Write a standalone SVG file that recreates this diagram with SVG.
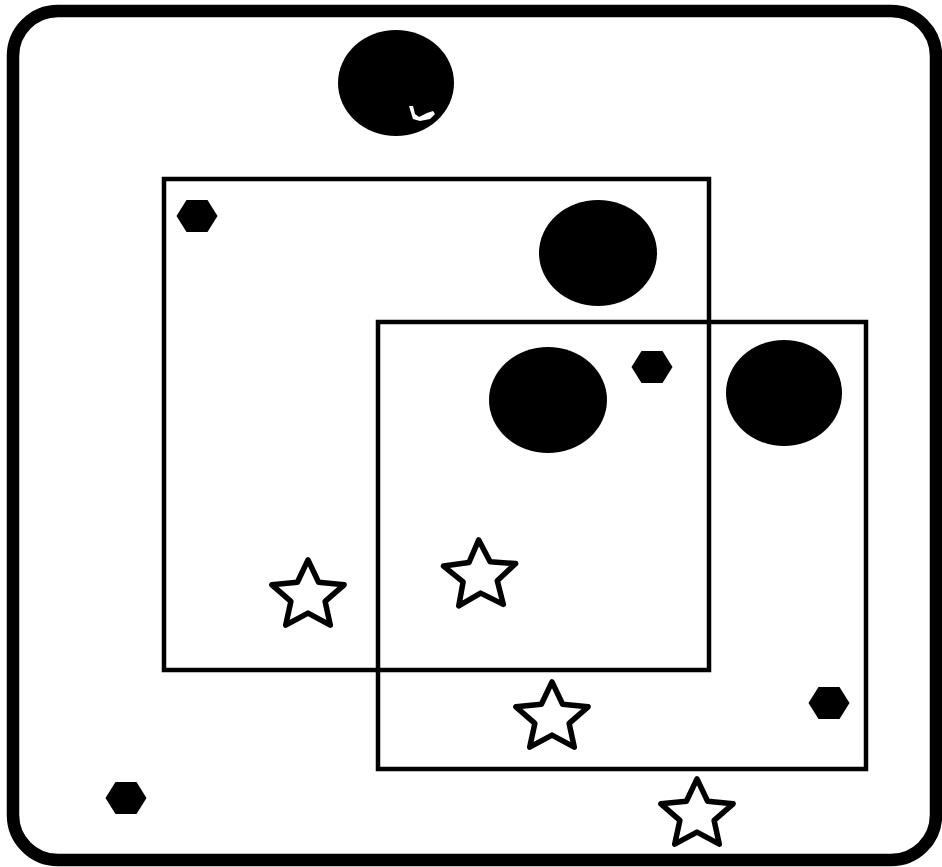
<svg xmlns="http://www.w3.org/2000/svg" xmlns:xlink="http://www.w3.org/1999/xlink" width="942" height="867" viewBox="0 0 942 867">
  <defs>
    <style>
      .frame { fill: #ffffff; stroke: #000000; stroke-width: 12.5; }
      .box { fill: none; stroke: #000000; stroke-width: 4.5; }
      .disc { fill: #000000; }
      .hex { fill: #000000; }
      .star { fill: #ffffff; stroke: #000000; stroke-width: 5.5; stroke-linejoin: round; }
    </style>
    <polygon id="hexShape" points="-20.5,0 -10.5,-16 10.5,-16 20.5,0 10.5,16 -10.5,16"/>
    <polygon id="starShape" points="0,-36.1 10.6,-13.8 36.1,-11.2 17.1,5.3 22.3,29.2 0,17.1 -22.3,29.2 -17.1,5.3 -36.1,-11.2 -10.6,-13.8"/>
  </defs>
  <rect x="0" y="0" width="942" height="867" fill="#ffffff"/>
  <g id="frame">
    <rect class="frame" x="13" y="11" width="923" height="849" rx="45" ry="45"/>
  </g>
  <g id="square-left">
    <rect class="box" x="164" y="179" width="545" height="491"/>
  </g>
  <g id="square-right">
    <rect class="box" x="378" y="322" width="488" height="447"/>
  </g>
  <g id="circle-top">
    <ellipse class="disc" cx="396" cy="83" rx="58" ry="53"/>
    <path d="M409,106 L413,106 L415,114 L419,117 L427,113 L433,111 L435,114 L430,119 L420,121 L413,119 Z" fill="#ffffff"/>
  </g>
  <g id="circle-2">
    <ellipse class="disc" cx="598" cy="253" rx="59" ry="53"/>
  </g>
  <g id="circle-3">
    <ellipse class="disc" cx="548" cy="400" rx="59" ry="53"/>
  </g>
  <g id="circle-4">
    <ellipse class="disc" cx="784" cy="393" rx="58" ry="53"/>
  </g>
  <g id="hex-1">
    <use xlink:href="#hexShape" href="#hexShape" class="hex" transform="translate(197,216)"/>
  </g>
  <g id="hex-2">
    <use xlink:href="#hexShape" href="#hexShape" class="hex" transform="translate(652,367)"/>
  </g>
  <g id="hex-3">
    <use xlink:href="#hexShape" href="#hexShape" class="hex" transform="translate(829,703)"/>
  </g>
  <g id="hex-4">
    <use xlink:href="#hexShape" href="#hexShape" class="hex" transform="translate(126,798)"/>
  </g>
  <g id="star-1">
    <use xlink:href="#starShape" href="#starShape" class="star" transform="translate(308,596)"/>
  </g>
  <g id="star-2">
    <use xlink:href="#starShape" href="#starShape" class="star" transform="translate(480,576) rotate(-2)"/>
  </g>
  <g id="star-3">
    <use xlink:href="#starShape" href="#starShape" class="star" transform="translate(552,718)"/>
  </g>
  <g id="star-4">
    <use xlink:href="#starShape" href="#starShape" class="star" transform="translate(697,815)"/>
  </g>
  <g id="connectors"></g>
</svg>
